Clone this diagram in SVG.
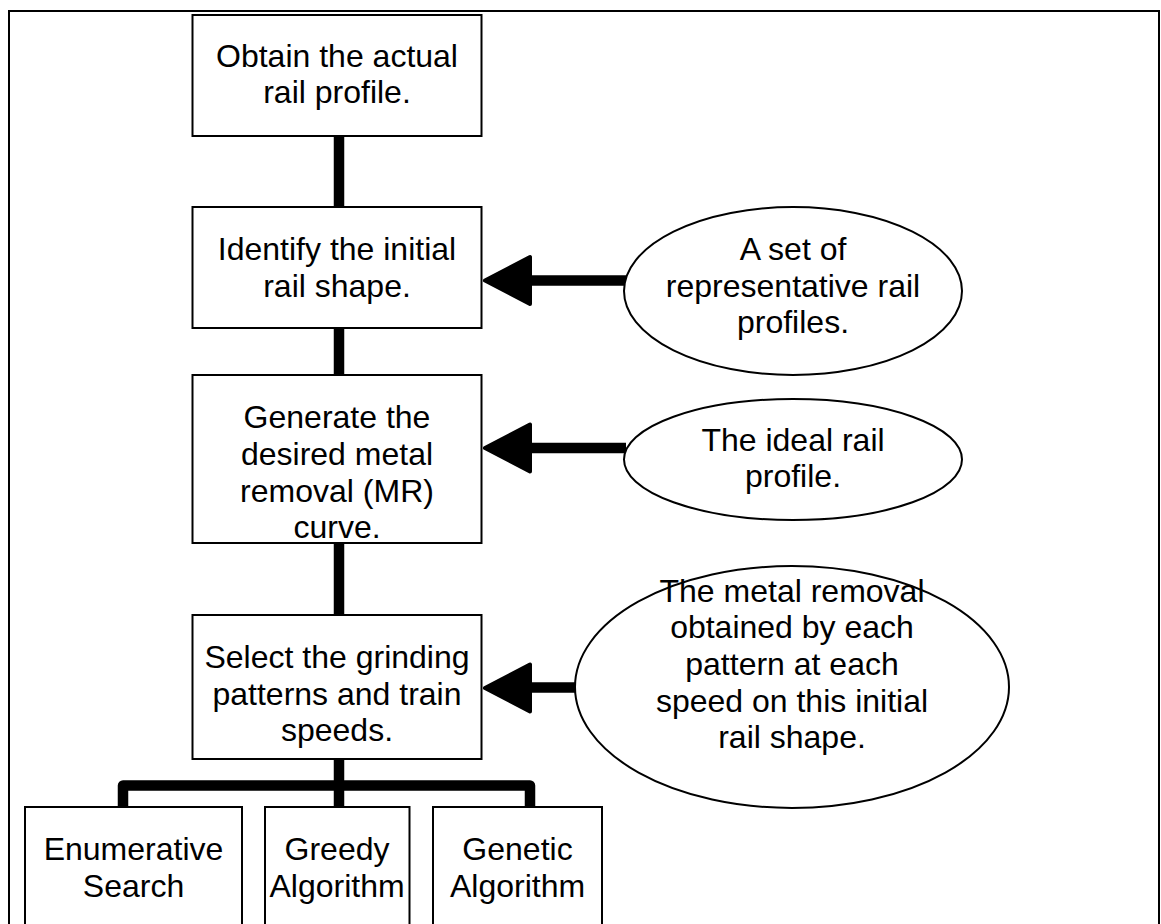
<svg xmlns="http://www.w3.org/2000/svg" width="1161" height="924" viewBox="0 0 1161 924">
<style>
.box{fill:#fff;stroke:#000;stroke-width:2}
.ell{fill:#fff;stroke:#000;stroke-width:2}
.t{font-family:"Liberation Sans",Arial,Helvetica,sans-serif;font-size:32px;fill:#000;text-anchor:middle}
.con{fill:none;stroke:#000;stroke-width:10.5;stroke-linejoin:round}
.head{fill:#000;stroke:#000;stroke-width:4;stroke-linejoin:round}
</style>
<rect x="0" y="0" width="1161" height="924" fill="#fff"/>
<rect x="9" y="11" width="1150" height="960" fill="none" stroke="#000" stroke-width="2"/>
<g id="connectors">
<line class="con" x1="339" y1="135" x2="339" y2="208"/>
<line class="con" x1="339" y1="327" x2="339" y2="376"/>
<line class="con" x1="339" y1="542" x2="339" y2="616"/>
<line class="con" x1="339" y1="758" x2="339" y2="808"/>
<path class="con" d="M123,808 V785.5 H530 V808"/>
<line class="con" x1="530" y1="280.5" x2="626" y2="280.5"/>
<polygon class="head" points="485,280.5 530,257 530,304"/>
<line class="con" x1="530" y1="448" x2="626" y2="448"/>
<polygon class="head" points="485,448 530,424.5 530,471.5"/>
<line class="con" x1="530" y1="687.5" x2="577" y2="687.5"/>
<polygon class="head" points="485,688 530,664.5 530,711.5"/>
</g>
<g id="n1">
<rect class="box" x="192.5" y="15" width="289" height="121"/>
<text class="t" x="337" y="66.5">Obtain the actual</text>
<text class="t" x="337" y="103">rail profile.</text>
</g>
<g id="n2">
<rect class="box" x="192.5" y="207" width="289" height="121"/>
<text class="t" x="337" y="260">Identify the initial</text>
<text class="t" x="337" y="296.7">rail shape.</text>
</g>
<g id="n3">
<rect class="box" x="192.5" y="375" width="289" height="168"/>
<text class="t" x="337" y="428.3">Generate the</text>
<text class="t" x="337" y="465">desired metal</text>
<text class="t" x="337" y="501.7">removal (MR)</text>
<text class="t" x="337" y="538.3">curve.</text>
</g>
<g id="n4">
<rect class="box" x="192.5" y="615" width="289" height="144"/>
<text class="t" x="337" y="668.3">Select the grinding</text>
<text class="t" x="337" y="704.5">patterns and train</text>
<text class="t" x="337" y="740.8">speeds.</text>
</g>
<g id="e1">
<ellipse class="ell" cx="793" cy="291" rx="169" ry="84"/>
<text class="t" x="793" y="260">A set of</text>
<text class="t" x="793" y="296.7">representative rail</text>
<text class="t" x="793" y="333.3">profiles.</text>
</g>
<g id="e2">
<ellipse class="ell" cx="793" cy="459.5" rx="169" ry="60.5"/>
<text class="t" x="793" y="450.7">The ideal rail</text>
<text class="t" x="793" y="487.3">profile.</text>
</g>
<g id="e3">
<ellipse class="ell" cx="792" cy="687" rx="217" ry="121"/>
<text class="t" x="792" y="601.7">The metal removal</text>
<text class="t" x="792" y="638.3">obtained by each</text>
<text class="t" x="792" y="675">pattern at each</text>
<text class="t" x="792" y="711.7">speed on this initial</text>
<text class="t" x="792" y="748.3">rail shape.</text>
</g>
<g id="b1">
<rect class="box" x="25" y="807" width="217" height="160"/>
<text class="t" x="133.5" y="860">Enumerative</text>
<text class="t" x="133.5" y="896.7">Search</text>
</g>
<g id="b2">
<rect class="box" x="265" y="807" width="144.5" height="160"/>
<text class="t" x="337" y="860">Greedy</text>
<text class="t" x="337" y="896.7">Algorithm</text>
</g>
<g id="b3">
<rect class="box" x="433" y="807" width="169" height="160"/>
<text class="t" x="517.5" y="860">Genetic</text>
<text class="t" x="517.5" y="896.7">Algorithm</text>
</g>
</svg>
